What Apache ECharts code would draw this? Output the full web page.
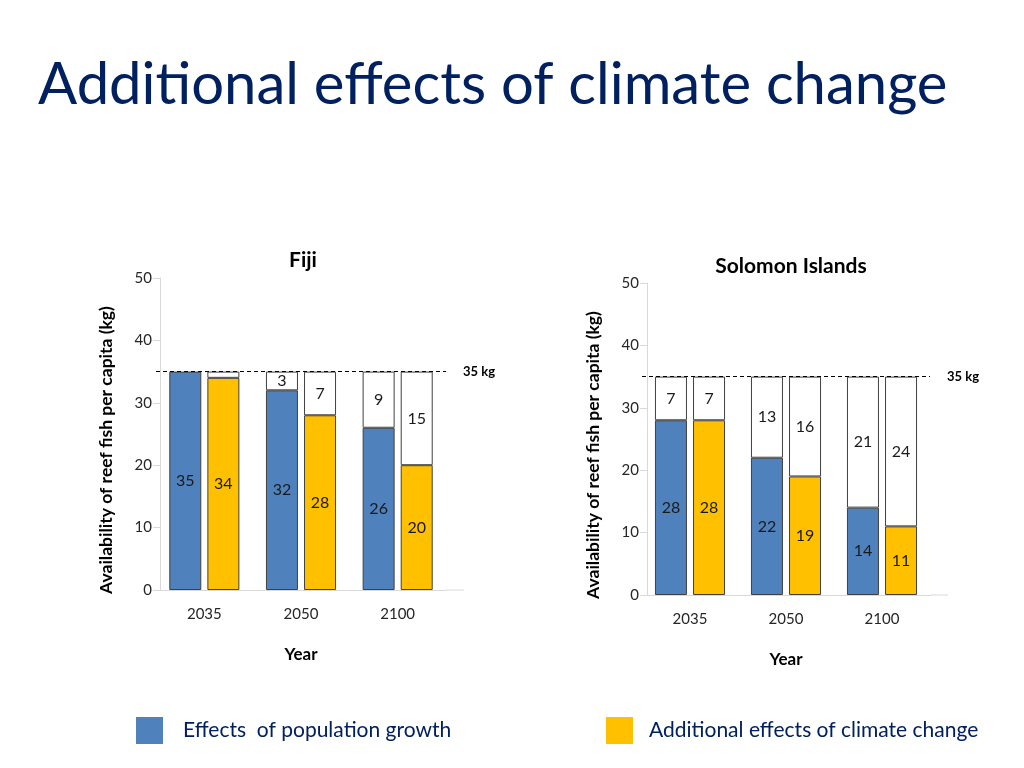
<!DOCTYPE html>
<html>
<head>
<meta charset="utf-8">
<script src="https://cdn.jsdelivr.net/npm/echarts@6/dist/echarts.min.js"></script>
<style>
  html, body { margin: 0; padding: 0; background: #fff; }
  #chart { width: 1024px; height: 768px; }
</style>
</head>
<body>
<div id="chart"></div>
<script>
const years = ['2035', '2050', '2100'];

// Fiji (kg per capita)
const fijiPop = [35, 32, 26];
const fijiPopGap = [null, 3, 9];
const fijiClim = [34, 28, 20];
const fijiClimGap = [1, 7, 15];

// Solomon Islands
const solPop = [28, 22, 14];
const solPopGap = [7, 13, 21];
const solClim = [28, 19, 11];
const solClimGap = [7, 16, 24];

const target = 35;

const BLUE = '#4F81BD';
const YELLOW = '#FFC000';
const NAVY = '#002060';
const FONT = 'Lato';
const POP = 'Effects  of population growth';
const CLIM = 'Additional effects of climate change';

const chart = echarts.init(document.getElementById('chart'));

function bar(name, stack, data, color, gi, withLine) {
    let s = {
        name: name,
        type: 'bar',
        stack: stack,
        xAxisIndex: gi,
        yAxisIndex: gi,
        data: data,
        barWidth: 32,
        barGap: '19%',
        itemStyle: {color: color, borderColor: '#404040', borderWidth: 1},
        label: {
            show: true,
            position: 'inside',
            color: '#1a1a1a',
            fontFamily: FONT,
            fontSize: 16,
            formatter: p => (p.value == null || p.value < 2) ? '' : p.value
        },
        emphasis: {disabled: true},
        animation: false
    };
    if (withLine) {
        s.markLine = {
            silent: true,
            symbol: 'none',
            animation: false,
            lineStyle: {color: '#000', type: [4, 3], width: 1},
            label: {
                position: 'end', formatter: '35 kg', color: '#000',
                fontFamily: FONT, fontWeight: 'bold', fontSize: 13, distance: 17
            },
            data: [{yAxis: target}]
        };
    }
    return s;
}

function xAx(gi) {
    return {
        type: 'category', gridIndex: gi, data: years,
        name: 'Year', nameLocation: 'middle', nameGap: 56,
        nameTextStyle: {fontFamily: FONT, fontWeight: 'bold', fontSize: 17, color: '#000'},
        axisLine: {lineStyle: {color: '#D9D9D9'}},
        axisTick: {show: false},
        axisLabel: {fontFamily: FONT, fontSize: 15, color: '#262626', margin: 17}
    };
}

function yAx(gi, off) {
    return {
        type: 'value', gridIndex: gi, min: 0, max: 50, interval: 10, offset: off,
        name: 'Availability of reef fish per capita (kg)',
        nameLocation: 'middle', nameGap: 45,
        // the name sits a bit below the middle of the axis in the original
        nameTextStyle: {fontFamily: FONT, fontWeight: 'bold', fontSize: 17.5, color: '#000',
                        padding: [0, 32, 0, 0]},
        axisLine: {show: true, lineStyle: {color: '#D9D9D9'}},
        axisTick: {show: true, length: 7, lineStyle: {color: '#D9D9D9'}},
        splitLine: {show: false},
        axisLabel: {fontFamily: FONT, fontSize: 15, color: '#262626', margin: 8}
    };
}

chart.setOption({
    backgroundColor: '#fff',
    animation: false,
    title: [
        {text: 'Additional effects of climate change', left: 33, top: 51,
         textStyle: {fontFamily: FONT, fontWeight: 'normal', fontSize: 58, color: NAVY}},
        {text: 'Fiji', left: 298, top: 245, textAlign: 'center',
         textStyle: {fontFamily: FONT, fontWeight: 'bold', fontSize: 21, color: '#000'}},
        {text: 'Solomon Islands', left: 786, top: 251, textAlign: 'center',
         textStyle: {fontFamily: FONT, fontWeight: 'bold', fontSize: 21, color: '#000'}}
    ],
    legend: [
        {data: [POP], left: 131, top: 712, itemWidth: 27, itemHeight: 27,
         icon: 'rect', itemStyle: {borderWidth: 0},
         textStyle: {fontFamily: FONT, fontSize: 21, color: NAVY, padding: [0, 0, 0, 15]},
         selectedMode: false},
        {data: [CLIM], left: 601, top: 712, itemWidth: 27, itemHeight: 27,
         icon: 'rect', itemStyle: {borderWidth: 0},
         textStyle: {fontFamily: FONT, fontSize: 21, color: NAVY, padding: [0, 0, 4, 11]},
         selectedMode: false}
    ],
    grid: [
        {left: 156, top: 278, width: 290, height: 312},
        {left: 642, top: 283, width: 288, height: 312}
    ],
    xAxis: [xAx(0), xAx(1)],
    yAxis: [yAx(0, -4), yAx(1, -5)],
    series: [
        bar(POP, 'fp', fijiPop, BLUE, 0, false),
        bar('gap1', 'fp', fijiPopGap, '#fff', 0, true),
        bar(CLIM, 'fc', fijiClim, YELLOW, 0, false),
        bar('gap2', 'fc', fijiClimGap, '#fff', 0, false),
        bar(POP, 'sp', solPop, BLUE, 1, false),
        bar('gap3', 'sp', solPopGap, '#fff', 1, true),
        bar(CLIM, 'sc', solClim, YELLOW, 1, false),
        bar('gap4', 'sc', solClimGap, '#fff', 1, false)
    ]
});

// the x axis line runs a little past the last category in the original
const ext = [];
[0, 1].forEach(gi => {
    const rect = chart.getModel().getComponent('grid', gi).coordinateSystem.getRect();
    const y0 = chart.convertToPixel({yAxisIndex: gi}, 0);
    ext.push({
        type: 'line', silent: true,
        shape: {x1: rect.x + rect.width, y1: y0, x2: rect.x + rect.width + 18, y2: y0},
        style: {stroke: '#D9D9D9', lineWidth: 1}
    });
});
chart.setOption({graphic: ext});
</script>
</body>
</html>
